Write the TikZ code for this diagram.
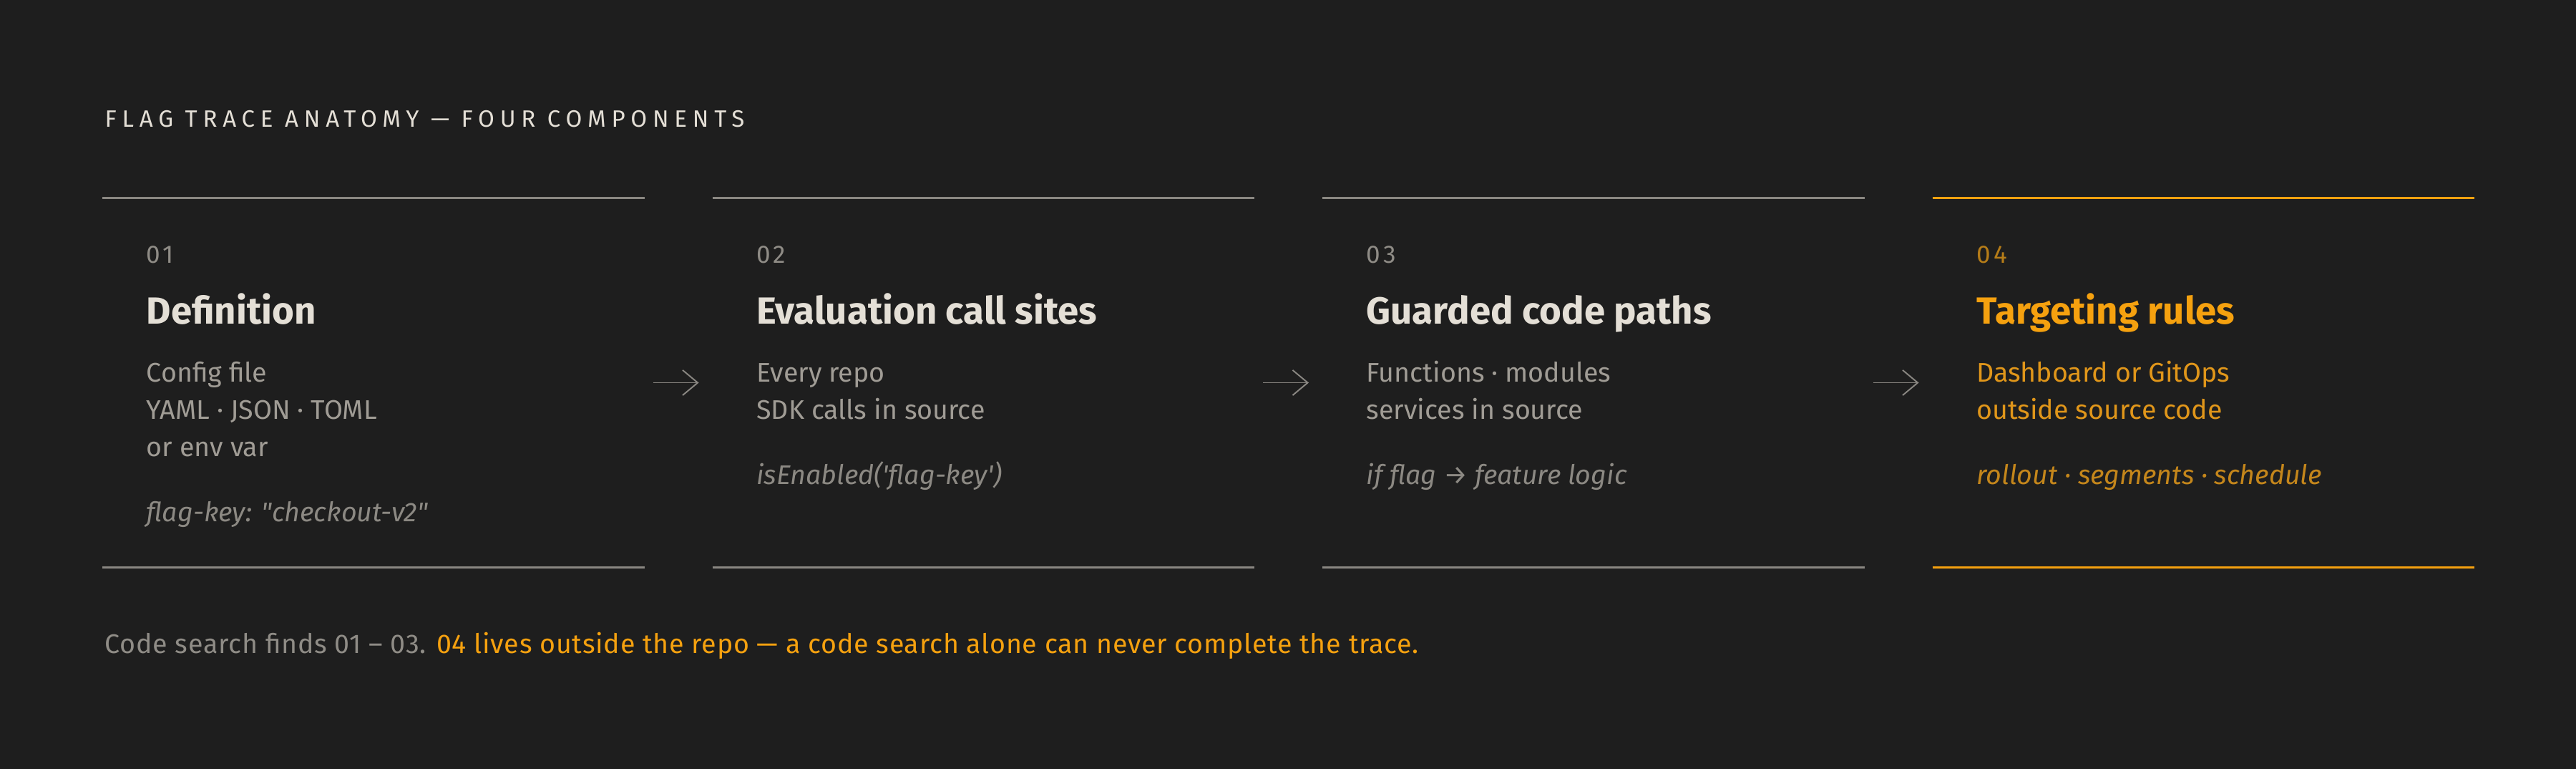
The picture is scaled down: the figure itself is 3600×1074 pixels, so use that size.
\documentclass[tikz,border=0pt]{standalone}
\usepackage{fontspec}
\setmainfont{Fira Sans}
\usetikzlibrary{arrows.meta,calc,positioning}

\definecolor{bgdark}{HTML}{1E1E1E}
\definecolor{inkhi}{HTML}{E4DFD6}
\definecolor{inkbody}{HTML}{A09C95}
\definecolor{inknote}{HTML}{8C8983}
\definecolor{inknum}{HTML}{8F8C86}
\definecolor{rulegray}{HTML}{8A8782}
\definecolor{amber}{HTML}{F5A10F}
\definecolor{amberbody}{HTML}{E0961A}
\definecolor{ambernote}{HTML}{C4861B}
\definecolor{ambernum}{HTML}{B57C18}

\begin{document}
\begin{tikzpicture}[%
    x=0.01cm, y=-0.01cm,
    >={Straight Barb[length=6pt,width=10pt]},
    node distance=8.52cm,
    on grid,
    card/.style={minimum width=7.56cm, minimum height=5.15cm, inner sep=0pt},
    txt/.style={inner sep=0pt, anchor=base west, align=left},
    caption/.style={txt, inkhi, font=\fontsize{9.4}{11}\selectfont\addfontfeatures{LetterSpace=23.5}},
    num/.style={txt, inknum, font=\fontsize{10}{12}\selectfont\addfontfeatures{LetterSpace=12}},
    head/.style={txt, inkhi, font=\fontsize{15}{18}\selectfont\bfseries},
    body/.style={txt, inkbody, font=\fontsize{10.7}{14.8}\selectfont},
    note/.style={txt, inknote, font=\fontsize{10.7}{14.8}\selectfont\itshape},
    foot/.style={txt, inknum, font=\fontsize{10.7}{13}\selectfont\addfontfeatures{LetterSpace=2}},
    rule/.style={rulegray, line width=0.85pt},
    flow/.style={->, rulegray, line width=0.55pt, shorten <=0.12cm, shorten >=0.19cm}
  ]
  \fill[bgdark] (0,0) rectangle (3600,1074);

  \node[caption] (title) at (146,178) {FLAG TRACE ANATOMY — FOUR COMPONENTS};

  % the four cards
  \node[card] (def) at (522,534.5) {};
  \node[card] (eval) [right of=def] {};
  \node[card] (guard) [right of=eval] {};
  \node[card] (target) [right of=guard] {};

  \draw[rule] (def.north west) -- (def.north east);
  \draw[rule] (def.south west) -- (def.south east);
  \draw[rule] (eval.north west) -- (eval.north east);
  \draw[rule] (eval.south west) -- (eval.south east);
  \draw[rule] (guard.north west) -- (guard.north east);
  \draw[rule] (guard.south west) -- (guard.south east);
  \draw[rule, amber] (target.north west) -- (target.north east);
  \draw[rule, amber] (target.south west) -- (target.south east);

  % base anchor of a body node sits on its last line
  \node[num] (def-n) at ($(def.north west)+(61,91)$) {01};
  \node[head] (def-h) at ($(def.north west)+(61,176)$) {Definition};
  \node[body] (def-b) at ($(def.north west)+(61,361)$) {Config file\\YAML · JSON · TOML\\or env var};
  \node[note] (def-x) at ($(def.north west)+(61,452)$) {flag-key: \textquotedbl checkout-v2\textquotedbl};

  \node[num] (eval-n) at ($(eval.north west)+(61,91)$) {02};
  \node[head] (eval-h) at ($(eval.north west)+(61,176)$) {Evaluation call sites};
  \node[body] (eval-b) at ($(eval.north west)+(61,309)$) {Every repo\\SDK calls in source};
  \node[note] (eval-x) at ($(eval.north west)+(61,400)$) {isEnabled(\textquotesingle flag-key\textquotesingle)};

  \node[num] (guard-n) at ($(guard.north west)+(61,91)$) {03};
  \node[head] (guard-h) at ($(guard.north west)+(61,176)$) {Guarded code paths};
  \node[body] (guard-b) at ($(guard.north west)+(61,309)$) {Functions · modules\\services in source};
  \node[note] (guard-x) at ($(guard.north west)+(61,400)$) {if flag → feature logic};

  \node[num, ambernum] (target-n) at ($(target.north west)+(61,91)$) {04};
  \node[head, amber] (target-h) at ($(target.north west)+(61,176)$) {Targeting rules};
  \node[body, amberbody] (target-b) at ($(target.north west)+(61,309)$) {Dashboard or GitOps\\outside source code};
  \node[note, ambernote] (target-x) at ($(target.north west)+(61,400)$) {rollout · segments · schedule};

  \draw[flow] (def) -- (eval);
  \draw[flow] (eval) -- (guard);
  \draw[flow] (guard) -- (target);

  \node[foot] (summary) at (146,913) {Code search finds 01 – 03. \textcolor{amber}{04 lives outside the repo — a code search alone can never complete the trace.}};
\end{tikzpicture}
\end{document}
